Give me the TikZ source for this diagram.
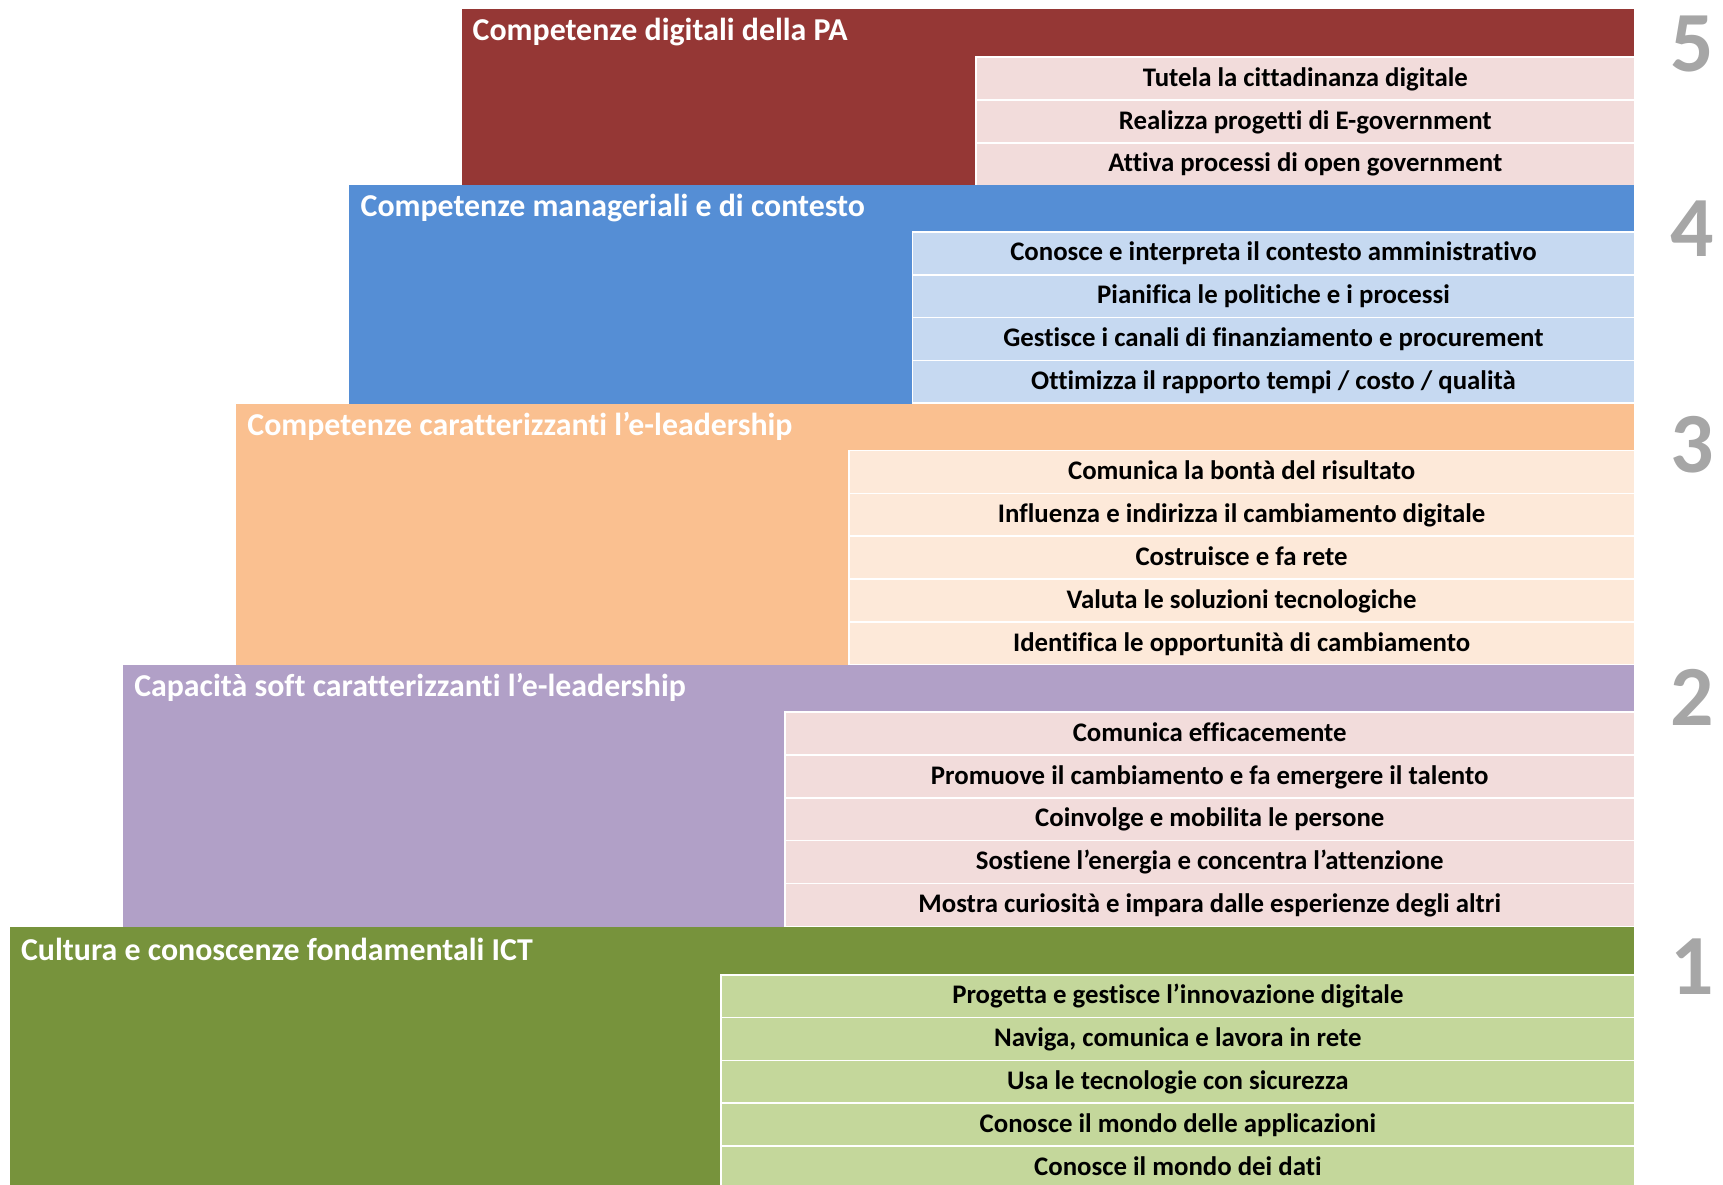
\documentclass[tikz,border=0pt]{standalone}
\usepackage{fontspec}
\setmainfont{Carlito}[Ligatures=NoCommon]
\usetikzlibrary{positioning}

\definecolor{redPA}{HTML}{953735}
\definecolor{pinkL}{HTML}{F2DCDB}
\definecolor{blueM}{HTML}{558ED5}
\definecolor{blueL}{HTML}{C6D9F1}
\definecolor{orangeM}{HTML}{FAC090}
\definecolor{orangeL}{HTML}{FDE9D9}
\definecolor{purpleM}{HTML}{B1A0C7}
\definecolor{greenM}{HTML}{77933C}
\definecolor{greenL}{HTML}{C4D79B}
\definecolor{numgray}{HTML}{A6A6A6}

\tikzset{
  levelbox/.style={fill=#1, draw=none, anchor=north west, inner sep=0pt},
  leveltitle/.style={text=white, anchor=west, inner sep=0pt,
    font=\fontsize{29}{34}\selectfont\bfseries},
  rowbox/.style={fill=#1, draw=white, line width=1.5pt, anchor=north east, outer sep=0pt,
    minimum height=39pt, inner sep=0pt, text height=17pt, text depth=3pt,
    font=\fontsize{24.4}{28}\selectfont\bfseries},
  levelnum/.style={text=numgray, inner sep=0pt, font=\fontsize{78}{80}\selectfont\bfseries},
}

\begin{document}
\begin{tikzpicture}[x=1pt, y=-1pt]
  \useasboundingbox (0,0) rectangle (1568,1078);

  % livello 5
  \node[levelbox=redPA, minimum width=1067pt, minimum height=160pt] (lvl5) at (420,8) {};
  \node[leveltitle] (t5) at ([xshift=10pt,yshift=-21pt]lvl5.north west) {Competenze digitali della PA};
  \node[rowbox=pinkL, minimum width=599pt] (r51) at ([yshift=-44pt]lvl5.north east) {Tutela la cittadinanza digitale};
  \node[rowbox=pinkL, minimum width=599pt, below=0pt of r51, anchor=north] (r52) {Realizza progetti di E-government};
  \node[rowbox=pinkL, minimum width=599pt, below=0pt of r52, anchor=north] (r53) {Attiva processi di open government};
  \node[levelnum] (n5) at (1540,40) {5};

  % livello 4
  \node[levelbox=blueM, minimum width=1170pt, minimum height=199pt] (lvl4) at (317,168) {};
  \node[leveltitle] (t4) at ([xshift=11pt,yshift=-21pt]lvl4.north west) {Competenze manageriali e di contesto};
  \node[rowbox=blueL, minimum width=657pt] (r41) at ([yshift=-43pt]lvl4.north east) {Conosce e interpreta il contesto amministrativo};
  \node[rowbox=blueL, minimum width=657pt, below=0pt of r41, anchor=north] (r42) {Pianifica le politiche e i processi};
  \node[rowbox=blueL, minimum width=657pt, below=0pt of r42, anchor=north] (r43) {Gestisce i canali di finanziamento e procurement};
  \node[rowbox=blueL, minimum width=657pt, below=0pt of r43, anchor=north] (r44) {Ottimizza il rapporto tempi / costo / qualità};
  \node[levelnum] (n4) at (1540,208) {4};

  % livello 3
  \node[levelbox=orangeM, minimum width=1272pt, minimum height=238pt] (lvl3) at (215,367) {};
  \node[leveltitle] (t3) at ([xshift=10pt,yshift=-21pt]lvl3.north west) {Competenze caratterizzanti l’e-leadership};
  \node[rowbox=orangeL, minimum width=715pt] (r31) at ([yshift=-43pt]lvl3.north east) {Comunica la bontà del risultato};
  \node[rowbox=orangeL, minimum width=715pt, below=0pt of r31, anchor=north] (r32) {Influenza e indirizza il cambiamento digitale};
  \node[rowbox=orangeL, minimum width=715pt, below=0pt of r32, anchor=north] (r33) {Costruisce e fa rete};
  \node[rowbox=orangeL, minimum width=715pt, below=0pt of r33, anchor=north] (r34) {Valuta le soluzioni tecnologiche};
  \node[rowbox=orangeL, minimum width=715pt, below=0pt of r34, anchor=north] (r35) {Identifica le opportunità di cambiamento};
  \node[levelnum] (n3) at (1540,405) {3};

  % livello 2
  \node[levelbox=purpleM, minimum width=1375pt, minimum height=238pt] (lvl2) at (112,605) {};
  \node[leveltitle] (t2) at ([xshift=10pt,yshift=-21pt]lvl2.north west) {Capacità soft caratterizzanti l’e-leadership};
  \node[rowbox=pinkL, minimum width=773pt] (r21) at ([yshift=-43pt]lvl2.north east) {Comunica efficacemente};
  \node[rowbox=pinkL, minimum width=773pt, below=0pt of r21, anchor=north] (r22) {Promuove il cambiamento e fa emergere il talento};
  \node[rowbox=pinkL, minimum width=773pt, below=0pt of r22, anchor=north] (r23) {Coinvolge e mobilita le persone};
  \node[rowbox=pinkL, minimum width=773pt, below=0pt of r23, anchor=north] (r24) {Sostiene l’energia e concentra l’attenzione};
  \node[rowbox=pinkL, minimum width=773pt, below=0pt of r24, anchor=north] (r25) {Mostra curiosità e impara dalle esperienze degli altri};
  \node[levelnum] (n2) at (1540,635) {2};

  % livello 1
  \node[levelbox=greenM, minimum width=1478pt, minimum height=240pt] (lvl1) at (9,843) {};
  \node[leveltitle] (t1) at ([xshift=10pt,yshift=-21pt]lvl1.north west) {Cultura e conoscenze fondamentali ICT};
  \node[rowbox=greenL, minimum width=831pt] (r11) at ([yshift=-44pt]lvl1.north east) {Progetta e gestisce l’innovazione digitale};
  \node[rowbox=greenL, minimum width=831pt, below=0pt of r11, anchor=north] (r12) {Naviga, comunica e lavora in rete};
  \node[rowbox=greenL, minimum width=831pt, below=0pt of r12, anchor=north] (r13) {Usa le tecnologie con sicurezza};
  \node[rowbox=greenL, minimum width=831pt, below=0pt of r13, anchor=north] (r14) {Conosce il mondo delle applicazioni};
  \node[rowbox=greenL, minimum width=831pt, below=0pt of r14, anchor=north] (r15) {Conosce il mondo dei dati};
  \node[levelnum] (n1) at (1540,880) {1};
\end{tikzpicture}
\end{document}
